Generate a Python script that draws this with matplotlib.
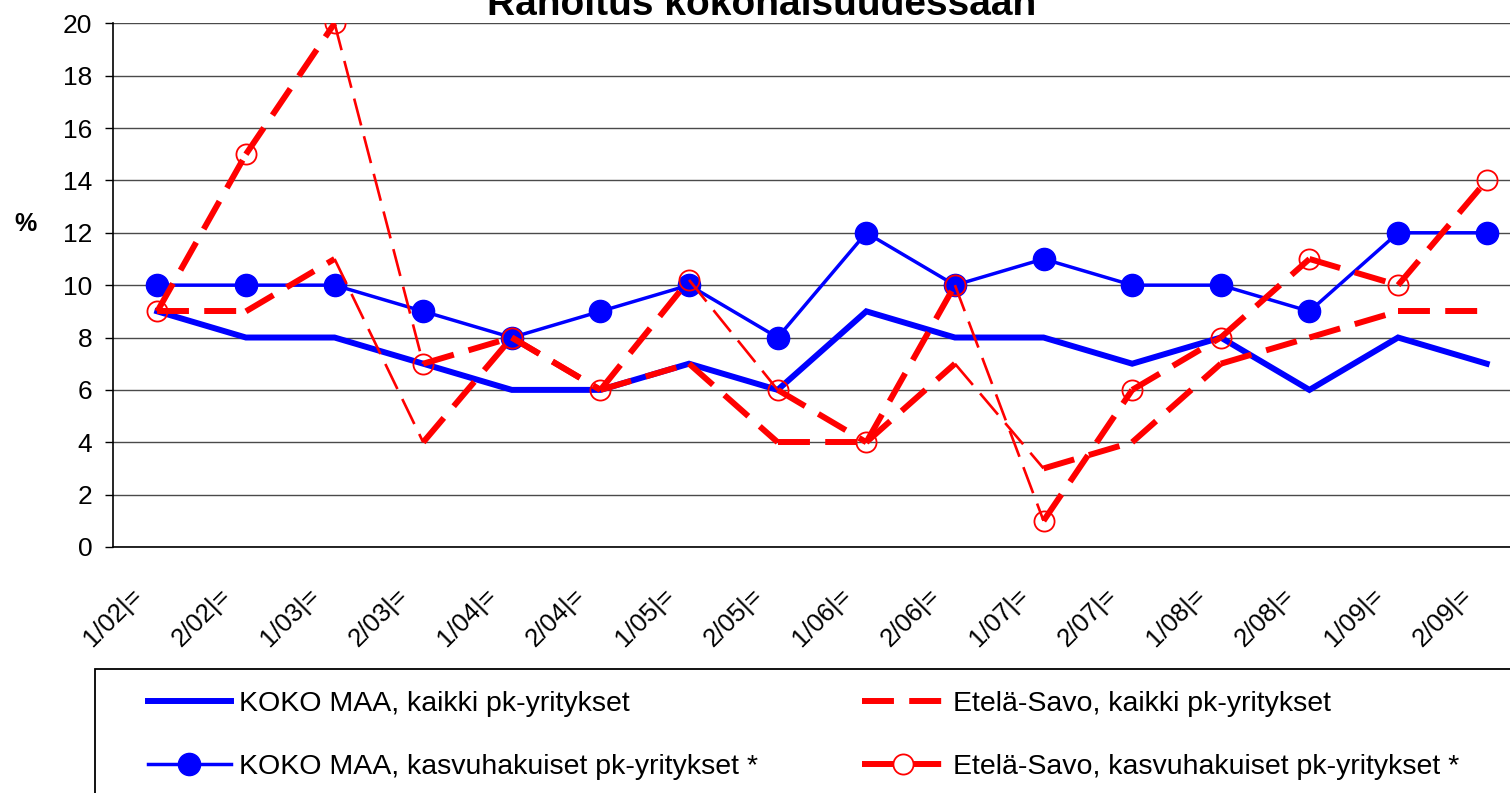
import matplotlib
matplotlib.use("Agg")
import matplotlib.pyplot as plt
import matplotlib.transforms as mtransforms
from matplotlib.lines import Line2D
from matplotlib.patches import Rectangle

plt.rcParams["font.family"] = ["Liberation Sans", "DejaVu Sans"]
plt.rcParams["lines.scale_dashes"] = False

# data
periods = ["1/02|=", "2/02|=", "1/03|=", "2/03|=", "1/04|=", "2/04|=", "1/05|=", "2/05|=",
           "1/06|=", "2/06|=", "1/07|=", "2/07|=", "1/08|=", "2/08|=", "1/09|=", "2/09|="]
koko_kaikki = [9, 8, 8, 7, 6, 6, 7, 6, 9, 8, 8, 7, 8, 6, 8, 7]
koko_kasvu = [10, 10, 10, 9, 8, 9, 10, 8, 12, 10, 11, 10, 10, 9, 12, 12]
es_kaikki = [9, 9, 11, 4, 8, 6, 7, 4, 4, 7, 3, 4, 7, 8, 9, 9]
es_kasvu = [9, 15, 20, 7, 8, 6, 10.2, 6, 4, 10, 1, 6, 8, 11, 10, 14]
yticks = list(range(0, 21, 2))

labels = ["KOKO MAA, kaikki pk-yritykset",
          "KOKO MAA, kasvuhakuiset pk-yritykset *",
          "Etelä-Savo, kaikki pk-yritykset",
          "Etelä-Savo, kasvuhakuiset pk-yritykset *"]

W, H = 1510, 793
fig = plt.figure(figsize=(W / 100, H / 100), dpi=100)
ax = fig.add_axes([113 / W, 1 - 547 / H, (1531 - 113) / W, (547 - 23.3) / H])

x = list(range(len(periods)))
blue = "#0000ff"
red = "#ff0000"
thick_dash = (0, (23, 11))
thin_dash = (0, (20, 8))

ax.plot(x, koko_kaikki, color=blue, lw=4.3, solid_joinstyle="miter", zorder=3)
ax.plot(x, koko_kasvu, color=blue, lw=2.5, marker="o", ms=16, zorder=4)

# red lines: steep falls were rendered thin in the original
for series, zo in [(es_kaikki, 5), (es_kasvu, 6)]:
    for i in range(len(series) - 1):
        drop = series[i + 1] - series[i]
        if drop < -3.5:
            ax.plot(x[i:i + 2], series[i:i + 2], color=red, lw=1.9, ls=thin_dash, zorder=zo)
        else:
            ax.plot(x[i:i + 2], series[i:i + 2], color=red, lw=4.3, ls=thick_dash, zorder=zo)
ax.plot(x, es_kasvu, ls="none", marker="o", ms=14.5, mfc="none", mec=red, mew=1.3, zorder=7)

ax.set_xlim(-0.5, len(periods) - 0.5)
ax.set_ylim(0, 20)
ax.set_yticks(yticks)
ax.tick_params(axis="y", labelsize=19, length=6, width=1, pad=9, direction="out")
ax.set_xticks(x)
ax.set_xticklabels(periods, rotation=45, ha="right", va="center", rotation_mode="anchor", fontsize=18.5)
ax.tick_params(axis="x", length=0, pad=0)
offset = mtransforms.ScaledTranslation(-0.19, -0.45, fig.dpi_scale_trans)
for lab in ax.get_xticklabels():
    lab.set_transform(lab.get_transform() + offset)

ax.yaxis.grid(True, color="#4a4a4a", lw=1.0)
ax.set_axisbelow(True)
for s in ["top", "right"]:
    ax.spines[s].set_visible(False)
ax.spines["left"].set_linewidth(1.2)
ax.spines["bottom"].set_linewidth(1.2)

fig.text(762 / W, 1 - 15 / H, "Rahoitus kokonaisuudessaan", ha="center", va="baseline",
         fontsize=28, fontweight="bold")
fig.text(25 / W, 1 - 224 / H, "%", ha="center", va="center", fontsize=18, fontweight="bold")

handles = [
    Line2D([], [], color=blue, lw=4.3),
    Line2D([], [], color=blue, lw=2.5, marker="o", ms=16),
    Line2D([], [], color=red, lw=4.3, ls=thick_dash),
    Line2D([], [], color=red, lw=4.3, ls=thick_dash, marker="o", ms=14.5, mfc="white", mec=red, mew=1.3),
]
fig.legend(handles, labels, ncol=2, loc="upper left", bbox_to_anchor=(148 / W, 1 - 691 / H),
           frameon=False, fontsize=20.5, handlelength=2.9, handletextpad=0.28,
           columnspacing=3.67, labelspacing=1.3, borderpad=0, borderaxespad=0)
fig.patches.append(Rectangle((95 / W, -0.1), 1.0, 0.1 + 1 - 669 / H, transform=fig.transFigure,
                             fill=False, edgecolor="black", lw=1.3))

fig.savefig("out.png", dpi=100)
